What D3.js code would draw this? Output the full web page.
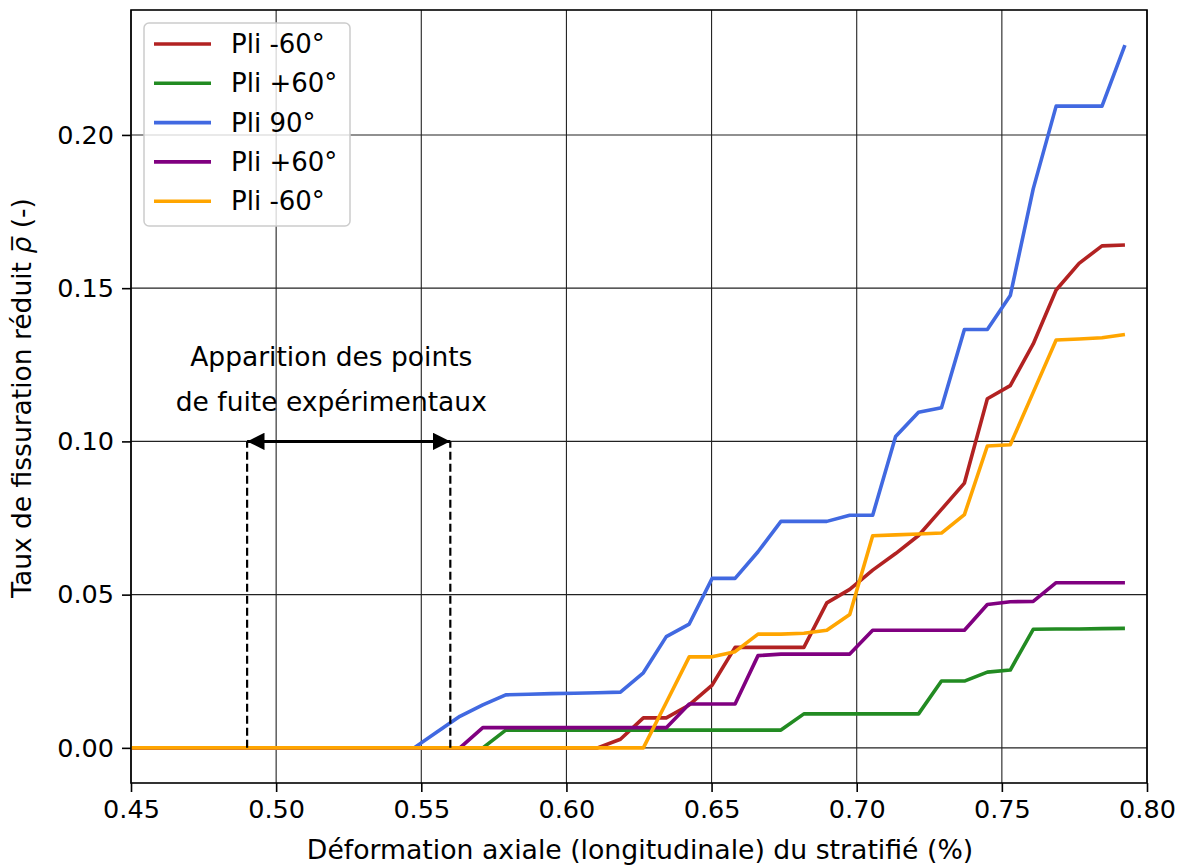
<!DOCTYPE html>
<html>
<head>
<meta charset="utf-8">
<script src="https://cdn.jsdelivr.net/npm/d3@7"></script>
<style>
  body { margin: 0; background: #fff; }
  svg { display: block; font-family: "DejaVu Sans", sans-serif; }
</style>
</head>
<body>
<svg id="chart" width="1184" height="865"></svg>
<script>
// shared strain grid (%)
var strain = [0.45, 0.5475, 0.5554, 0.5633, 0.5712, 0.5791, 0.5870, 0.5949, 0.6028, 0.6107,
    0.6186, 0.6265, 0.6344, 0.6423, 0.6502, 0.6581, 0.6660, 0.6739, 0.6818, 0.6897,
    0.6976, 0.7055, 0.7134, 0.7213, 0.7292, 0.7371, 0.7450, 0.7529, 0.7608, 0.7687,
    0.7766, 0.7845, 0.7924];

var red60m = [0, 0, 0, 0, 0, 0, 0, 0, 0, 0,
    0.0028, 0.0098, 0.0098, 0.0140, 0.0205, 0.0328, 0.0328, 0.0328, 0.0328, 0.0473,
    0.0517, 0.0580, 0.0634, 0.0693, 0.0778, 0.0864, 0.1139, 0.1182, 0.1318, 0.1494,
    0.1581, 0.1638, 0.1641];
var green60p = [0, 0, 0, 0, 0, 0.0058, 0.0058, 0.0058, 0.0058, 0.0058,
    0.0058, 0.0058, 0.0058, 0.0058, 0.0058, 0.0058, 0.0058, 0.0058, 0.0111, 0.0111,
    0.0111, 0.0111, 0.0111, 0.0111, 0.0218, 0.0218, 0.0247, 0.0254, 0.0387, 0.0388,
    0.0388, 0.0389, 0.0390];
var blue90 = [0, 0, 0.0052, 0.0103, 0.0140, 0.0173, 0.0175, 0.0177, 0.0178, 0.0180,
    0.0182, 0.0245, 0.0363, 0.0404, 0.0553, 0.0553, 0.0640, 0.0739, 0.0739, 0.0739,
    0.0759, 0.0759, 0.1016, 0.1095, 0.1110, 0.1365, 0.1365, 0.1476, 0.1824, 0.2094,
    0.2094, 0.2094, 0.2293];
var purple60p = [0, 0, 0, 0, 0.0066, 0.0066, 0.0066, 0.0066, 0.0066, 0.0066,
    0.0066, 0.0066, 0.0066, 0.0143, 0.0143, 0.0143, 0.0301, 0.0306, 0.0306, 0.0306,
    0.0306, 0.0384, 0.0384, 0.0384, 0.0384, 0.0384, 0.0468, 0.0477, 0.0478, 0.0539,
    0.0539, 0.0539, 0.0539];
var orange60m = [0, 0, 0, 0, 0, 0, 0, 0, 0, 0,
    0, 0, 0.0148, 0.0297, 0.0297, 0.0314, 0.0371, 0.0371, 0.0374, 0.0384,
    0.0435, 0.0692, 0.0695, 0.0698, 0.0701, 0.0761, 0.0985, 0.0989, 0.1160, 0.1331,
    0.1334, 0.1338, 0.1349];

var seriesNames = ["Pli -60°", "Pli +60°", "Pli 90°", "Pli +60°", "Pli -60°"];
var seriesValues = [red60m, green60p, blue90, purple60p, orange60m];
var seriesColors = ["#b22222", "#228b22", "#4169e1", "#800080", "#ffa500"];

var xTicks = [0.45, 0.50, 0.55, 0.60, 0.65, 0.70, 0.75, 0.80];
var yTicks = [0.00, 0.05, 0.10, 0.15, 0.20];

// leak window annotation
var leakRange = [0.49, 0.56];
var leakLevel = 0.10;
var leakTextX = 0.519;
var leakText = ["Apparition des points", "de fuite expérimentaux"];

var margin = {left: 131, right: 37, top: 10, bottom: 82};
var W = 1184, H = 865;
var w = W - margin.left - margin.right;
var h = H - margin.top - margin.bottom;

var yMax = d3.max(blue90);
var pad = yMax * 0.05;

var x = d3.scaleLinear().domain([0.45, 0.80]).range([0, w]);
var y = d3.scaleLinear().domain([-pad, yMax + pad]).range([h, 0]);

var svg = d3.select("#chart");
var g = svg.append("g").attr("transform", "translate(" + margin.left + "," + margin.top + ")");

// grid
g.append("g").selectAll("line").data(xTicks).enter().append("line")
    .attr("x1", d => x(d)).attr("x2", d => x(d))
    .attr("y1", 0).attr("y2", h)
    .attr("stroke", "#222").attr("stroke-width", 1.1);
g.append("g").selectAll("line").data(yTicks).enter().append("line")
    .attr("x1", 0).attr("x2", w)
    .attr("y1", d => y(d)).attr("y2", d => y(d))
    .attr("stroke", "#222").attr("stroke-width", 1.1);

// curves
var line = d3.line()
    .x((d, i) => x(strain[i]))
    .y(d => y(d));

g.append("g").selectAll("path").data(seriesValues).enter().append("path")
    .attr("d", line)
    .attr("fill", "none")
    .attr("stroke", (d, i) => seriesColors[i])
    .attr("stroke-width", 3.6)
    .attr("stroke-linejoin", "round");

// dashed verticals
g.append("g").selectAll("line").data(leakRange).enter().append("line")
    .attr("x1", d => x(d)).attr("x2", d => x(d))
    .attr("y1", y(0)).attr("y2", y(leakLevel))
    .attr("stroke", "#000").attr("stroke-width", 2.2)
    .attr("stroke-dasharray", "8,4");

// double arrow
var defs = svg.append("defs");
defs.append("marker").attr("id", "ah").attr("viewBox", "0 0 10 10")
    .attr("refX", 10).attr("refY", 5)
    .attr("markerWidth", 5.8).attr("markerHeight", 5.8)
    .attr("markerUnits", "strokeWidth")
    .attr("orient", "auto-start-reverse")
    .append("path").attr("d", "M0,0 L10,5 L0,10 Z").attr("fill", "#000");

g.append("line")
    .attr("x1", x(leakRange[0])).attr("x2", x(leakRange[1]))
    .attr("y1", y(leakLevel)).attr("y2", y(leakLevel))
    .attr("stroke", "#000").attr("stroke-width", 3)
    .attr("marker-start", "url(#ah)").attr("marker-end", "url(#ah)");

g.append("g").selectAll("text").data(leakText).enter().append("text")
    .attr("x", x(leakTextX))
    .attr("y", (d, i) => y(leakLevel) - 75 + i * 45)
    .attr("text-anchor", "middle")
    .attr("font-size", "26.5px")
    .attr("fill", "#000")
    .text(d => d);

// axes
var xAxis = g.append("g").attr("transform", "translate(0," + h + ")")
    .call(d3.axisBottom(x).tickValues(xTicks).tickFormat(d3.format(".2f")).tickSize(9).tickPadding(8));
var yAxis = g.append("g")
    .call(d3.axisLeft(y).tickValues(yTicks).tickFormat(d3.format(".2f")).tickSize(9).tickPadding(8));
[xAxis, yAxis].forEach(function (a) {
    a.select(".domain").remove();
    a.selectAll("line").attr("stroke", "#000").attr("stroke-width", 1.6);
    a.selectAll("text").attr("font-size", "25.5px").attr("fill", "#000")
        .attr("font-family", "DejaVu Sans, sans-serif");
});

// frame
g.append("rect").attr("width", w).attr("height", h)
    .attr("fill", "none").attr("stroke", "#000").attr("stroke-width", 1.6);

// axis labels
svg.append("text")
    .attr("x", 640).attr("y", 859)
    .attr("text-anchor", "middle").attr("font-size", "26.7px")
    .text("Déformation axiale (longitudinale) du stratifié (%)");

var yl = svg.append("text")
    .attr("transform", "translate(31," + 398 + ") rotate(-90)")
    .attr("text-anchor", "middle").attr("font-size", "26.5px");
yl.append("tspan").text("Taux de fissuration réduit ");
yl.append("tspan").attr("font-style", "italic").text("ρ\u0305");
yl.append("tspan").text(" (-)");

// legend
var leg = g.append("g").attr("transform", "translate(13,13)");
leg.append("rect").attr("width", 206).attr("height", 203)
    .attr("rx", 5).attr("ry", 5)
    .attr("fill", "#fff").attr("fill-opacity", 0.8)
    .attr("stroke", "#ccc").attr("stroke-width", 1.5);
var items = leg.selectAll("g.item").data(seriesNames).enter().append("g")
    .attr("class", "item")
    .attr("transform", (d, i) => "translate(0," + (21 + i * 39.3) + ")");
items.append("line").attr("x1", 10).attr("x2", 67)
    .attr("stroke", (d, i) => seriesColors[i]).attr("stroke-width", 3.6);
items.append("text").attr("x", 87).attr("dy", "0.35em")
    .attr("font-size", "26px").text(d => d);
</script>
</body>
</html>
